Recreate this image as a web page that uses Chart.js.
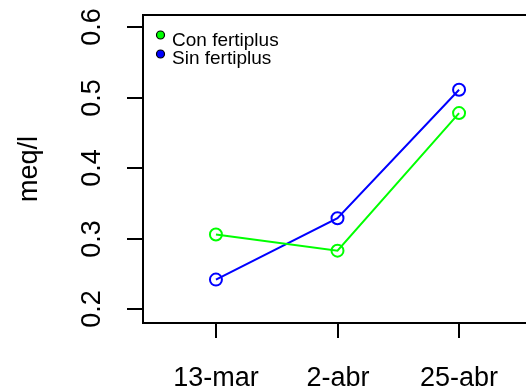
<!DOCTYPE html>
<html>
<head>
<meta charset="utf-8">
<script src="https://cdn.jsdelivr.net/npm/chart.js@4"></script>
<style>
  html, body { margin: 0; padding: 0; background: #fff; overflow: hidden; }
  canvas { display: block; }
</style>
</head>
<body>
<canvas id="chart" width="540" height="391"></canvas>
<script>
const fechas = ['13-mar', '2-abr', '25-abr'];
const conFertiplus = [0.306, 0.283, 0.478];
const sinFertiplus = [0.242, 0.329, 0.511];
const yTicks = [0.2, 0.3, 0.4, 0.5, 0.6];
const yTitle = 'meq/l';
const leyenda = ['Con fertiplus', 'Sin fertiplus'];
const colores = ['#00ff00', '#0000ff'];

const axisFont = '27px "Liberation Sans", Arial, sans-serif';

function drawText(ctx, text, x, y, rot) {
    ctx.save();
    ctx.translate(x, y);
    if (rot) ctx.rotate(rot);
    ctx.fillText(text, 0, 0);
    ctx.restore();
}

const rAxes = {
    id: 'rAxes',
    afterDraw(chart) {
        const ctx = chart.ctx;
        const a = chart.chartArea;
        const xs = chart.scales.x;
        const ys = chart.scales.y;
        ctx.save();
        ctx.strokeStyle = '#000';
        ctx.lineWidth = 2;
        ctx.strokeRect(a.left, a.top, a.right - a.left, a.bottom - a.top);

        ctx.fillStyle = '#000';
        ctx.font = axisFont;
        ctx.textAlign = 'center';
        ctx.textBaseline = 'alphabetic';

        // eje x
        fechas.forEach((f, i) => {
            const px = Math.round(xs.getPixelForValue(i + 1));
            ctx.beginPath();
            ctx.moveTo(px, a.bottom);
            ctx.lineTo(px, a.bottom + 15);
            ctx.stroke();
            drawText(ctx, f, px, 386, 0);
        });

        // eje y
        yTicks.forEach(v => {
            const py = Math.round(ys.getPixelForValue(v));
            ctx.beginPath();
            ctx.moveTo(a.left - 16, py);
            ctx.lineTo(a.left, py);
            ctx.stroke();
            drawText(ctx, v.toFixed(1), 100, py, -Math.PI / 2);
        });

        drawText(ctx, yTitle, 37, (a.top + a.bottom) / 2, -Math.PI / 2);

        // leyenda
        ctx.font = '19px "Liberation Sans", Arial, sans-serif';
        ctx.textAlign = 'left';
        const ly = [35, 54];
        const tb = [46, 64];
        leyenda.forEach((t, i) => {
            ctx.beginPath();
            ctx.arc(160.5, ly[i], 4, 0, Math.PI * 2);
            ctx.fillStyle = colores[i];
            ctx.fill();
            ctx.lineWidth = 1.2;
            ctx.strokeStyle = '#000';
            ctx.stroke();
            ctx.fillStyle = '#000';
            ctx.fillText(t, 172, tb[i]);
        });
        ctx.restore();
    }
};

function serie(valores) {
    return valores.map((v, i) => ({ x: i + 1, y: v }));
}

function dataset(nombre, valores, color) {
    return {
        label: nombre,
        data: serie(valores),
        borderColor: color,
        borderWidth: 2,
        pointRadius: 6,
        pointBorderWidth: 2,
        pointBackgroundColor: 'rgba(0,0,0,0)',
        pointBorderColor: color,
        tension: 0
    };
}

new Chart(document.getElementById('chart').getContext('2d'), {
    type: 'line',
    data: {
        datasets: [
            dataset(leyenda[0], conFertiplus, colores[0]),
            dataset(leyenda[1], sinFertiplus, colores[1])
        ]
    },
    options: {
        responsive: false,
        animation: false,
        devicePixelRatio: 1,
        layout: { padding: { left: 143, top: 15, right: 7, bottom: 68 } },
        plugins: {
            legend: { display: false },
            tooltip: { enabled: false }
        },
        scales: {
            x: { type: 'linear', min: 0.4, max: 3.6, display: false },
            y: { type: 'linear', min: 0.1805, max: 0.617, display: false }
        }
    },
    plugins: [rAxes]
});
</script>
</body>
</html>
